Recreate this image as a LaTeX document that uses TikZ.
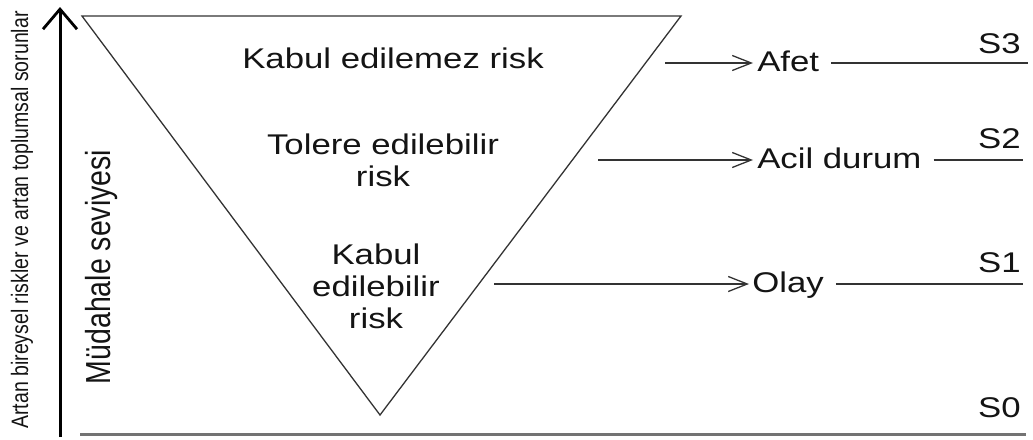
\documentclass[tikz,border=0pt]{standalone}
\usepackage{fontspec}
\setmainfont{Liberation Sans}
\usetikzlibrary{arrows.meta}
\begin{document}
\begin{tikzpicture}[x=1pt,y=-1pt,
  lbl/.style={font=\fontsize{28.5}{32}\selectfont, text=black!92, inner sep=0pt, xscale=1.22, align=center},
  vlbl/.style={text=black!92, inner sep=0pt, xscale=1.22, rotate=90, anchor=base},
  ln/.style={draw=black!80, line width=1.3pt},
  arr/.style={ln, -{Straight Barb[length=19pt,width=15pt]}},
  axisarrow/.style={draw=black, line width=3pt, -{Straight Barb[length=20pt 0 0,width=34pt 0 0,line width=2.8pt]}},
]
\useasboundingbox (0,0) rectangle (1033,439);
% triangle
\coordinate (tl) at (82,16);
\coordinate (tr) at (681,16);
\coordinate (bv) at (380,415);
\draw[ln, line join=miter] (tl) -- (tr) -- (bv) -- cycle;
% vertical axis
\coordinate (ab) at (60,437);
\coordinate (at) at (60,7);
\draw[axisarrow] (ab) -- (at);
% base line
\coordinate (b0) at (80,434);
\coordinate (b1) at (1026,434);
\draw[draw=black!55, line width=3pt] (b0) -- (b1);
% vertical labels
\node[vlbl, font=\fontsize{19.5}{22}\selectfont] (axis) at (28,220) {Artan bireysel riskler ve artan toplumsal sorunlar};
\node[vlbl, font=\fontsize{28.5}{32}\selectfont] (mud) at (110,267) {Müdahale seviyesi};
% triangle texts
\node[lbl, anchor=base] (k1) at (393,68) {Kabul edilemez risk};
\node[lbl] (k2) at (383,160) {Tolere edilebilir\\risk};
\node[lbl] (k3) at (376,286) {Kabul\\edilebilir\\risk};
% right labels
\node[lbl, anchor=base west] (afet) at (757,71) {Afet};
\node[lbl, anchor=base west] (acil) at (757,168) {Acil durum};
\node[lbl, anchor=base west] (olay) at (752,292) {Olay};
\node[lbl, anchor=base east] (s3) at (1021,53) {S3};
\node[lbl, anchor=base east] (s2) at (1021,148) {S2};
\node[lbl, anchor=base east] (s1) at (1021,272) {S1};
\node[lbl, anchor=base east] (s0) at (1021,417) {S0};
% arrows
\coordinate (a3) at (665,63);
\coordinate (a2) at (598,160);
\coordinate (a1) at (494,284);
\draw[arr, shorten >=4pt] (a3) -- (a3 -| afet.west);
\draw[arr, shorten >=4pt] (a2) -- (a2 -| acil.west);
\draw[arr, shorten >=3pt] (a1) -- (a1 -| olay.west);
% level lines
\coordinate (e3) at (1028,63);
\coordinate (e2) at (1023,160);
\coordinate (e1) at (1023,284);
\draw[ln, shorten <=12pt] (afet.east |- e3) -- (e3);
\draw[ln, shorten <=12pt] (acil.east |- e2) -- (e2);
\draw[ln, shorten <=12pt] (olay.east |- e1) -- (e1);
\end{tikzpicture}
\end{document}
